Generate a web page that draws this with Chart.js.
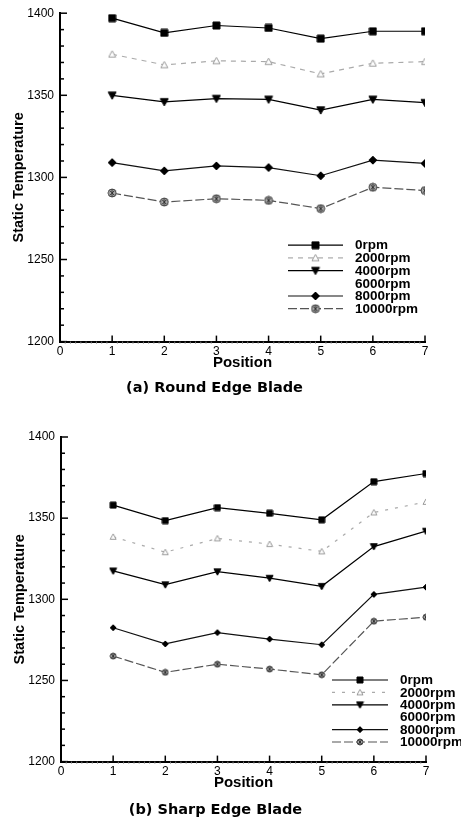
<!DOCTYPE html>
<html>
<head>
<meta charset="utf-8">
<script src="https://cdn.jsdelivr.net/npm/chart.js@4.4.1/dist/chart.umd.min.js"></script>
<style>
body { margin: 0; background: #fff; }
.wrap { width: 461px; position: relative; }
</style>
</head>
<body>
<div class="wrap" style="height:405px"><canvas id="round" width="461" height="405"></canvas></div>
<div class="wrap" style="height:417px"><canvas id="sharp" width="461" height="417"></canvas></div>
<script>
var positions = [1, 2, 3, 4, 5, 6, 7];
var rpmLabels = ['0rpm', '2000rpm', '4000rpm', '6000rpm', '8000rpm', '10000rpm'];
var yTicks = [1200, 1250, 1300, 1350, 1400];

// (a) round edge blade
var round0 = [1397, 1388, 1392.5, 1391, 1384.5, 1389, 1389];
var round2000 = [1375, 1368.5, 1371, 1370.5, 1363, 1369.5, 1370.5];
var round4000 = [1350, 1346, 1348, 1347.5, 1341, 1347.5, 1345.5];
var round6000 = [];
var round8000 = [1309, 1304, 1307, 1306, 1301, 1310.5, 1308.5];
var round10000 = [1290.5, 1285, 1287, 1286, 1281, 1294, 1292];

// (b) sharp edge blade
var sharp0 = [1358, 1348.5, 1356.5, 1353, 1349, 1372.5, 1377.5];
var sharp2000 = [1338.5, 1329, 1337.5, 1334, 1329.5, 1353.5, 1360];
var sharp4000 = [1317.5, 1309, 1317, 1313, 1308, 1332.5, 1342];
var sharp6000 = [];
var sharp8000 = [1282.5, 1272.5, 1279.5, 1275.5, 1272, 1303, 1307.5];
var sharp10000 = [1265, 1255, 1260, 1257, 1253.5, 1286.5, 1289];

Chart.defaults.font.family = '"Liberation Sans", Arial, sans-serif';
Chart.defaults.color = '#000';

function makeMarker(kind, size, fill, stroke) {
    var c = document.createElement('canvas');
    var s = size + 2;
    c.width = s;
    c.height = s;
    var g = c.getContext('2d');
    var m = s / 2, r = size / 2;
    g.fillStyle = fill;
    g.strokeStyle = stroke;
    g.lineWidth = 1;
    g.beginPath();
    if (kind == 'square') {
        g.rect(m - r, m - r, size, size);
    } else if (kind == 'up') {
        g.moveTo(m, m - r); g.lineTo(m + r, m + r * 0.8); g.lineTo(m - r, m + r * 0.8); g.closePath();
    } else if (kind == 'down') {
        g.moveTo(m - r, m - r * 0.8); g.lineTo(m + r, m - r * 0.8); g.lineTo(m, m + r); g.closePath();
    } else if (kind == 'diamond') {
        g.moveTo(m, m - r); g.lineTo(m + r, m); g.lineTo(m, m + r); g.lineTo(m - r, m); g.closePath();
    } else if (kind == 'circlecross') {
        g.arc(m, m, r, 0, Math.PI * 2);
    }
    g.fill();
    g.stroke();
    if (kind == 'circlecross') {
        g.strokeStyle = '#333';
        g.beginPath();
        g.moveTo(m - r * 0.6, m - r * 0.6); g.lineTo(m + r * 0.6, m + r * 0.6);
        g.moveTo(m + r * 0.6, m - r * 0.6); g.lineTo(m - r * 0.6, m + r * 0.6);
        g.moveTo(m, m - r); g.lineTo(m, m + r);
        g.stroke();
    }
    return c;
}

function toPoints(values) {
    var pts = [];
    for (var i = 0; i < values.length; i++) {
        pts.push({ x: positions[i], y: values[i] });
    }
    return pts;
}

var decor = {
    id: 'decor',
    afterDraw: function (chart) {
        var ctx = chart.ctx, xs = chart.scales.x, ys = chart.scales.y, a = chart.chartArea;
        var o = chart.options.plugins.decor;
        ctx.save();
        ctx.strokeStyle = '#000';
        ctx.lineWidth = 1.5;
        for (var v = 1200; v <= 1400; v += 10) {
            var py = ys.getPixelForValue(v);
            var len = v % 50 == 0 ? 7 : 4;
            ctx.beginPath(); ctx.moveTo(a.left, py); ctx.lineTo(a.left + len, py); ctx.stroke();
        }
        for (var k = 1; k <= 7; k++) {
            var px = xs.getPixelForValue(k);
            ctx.beginPath(); ctx.moveTo(px, a.bottom + 1); ctx.lineTo(px, a.bottom - 6); ctx.stroke();
        }
        ctx.lineWidth = 1;
        ctx.strokeStyle = '#777';
        for (var t = 1; t < 70; t++) {
            if (t % 10 == 0) continue;
            var qx = xs.getPixelForValue(t / 10);
            ctx.beginPath(); ctx.moveTo(qx, a.bottom); ctx.lineTo(qx, a.bottom + 2); ctx.stroke();
        }
        // legend
        var ds = chart.data.datasets;
        var x0 = a.left + o.dx, y0 = a.top + o.dy;
        ctx.font = 'bold 13.5px "Liberation Sans"';
        ctx.textBaseline = 'middle';
        ctx.fillStyle = '#000';
        for (var i = 0; i < ds.length; i++) {
            var y = y0 + i * o.step;
            if (ds[i].data.length) {
                ctx.strokeStyle = ds[i].borderColor;
                ctx.lineWidth = ds[i].borderWidth;
                ctx.setLineDash(ds[i].borderDash || []);
                ctx.beginPath(); ctx.moveTo(x0, y); ctx.lineTo(x0 + o.len, y); ctx.stroke();
                ctx.setLineDash([]);
                var img = ds[i].pointStyle;
                ctx.drawImage(img, x0 + o.len / 2 - img.width / 2, y - img.height / 2);
            }
            ctx.fillText(ds[i].label, x0 + o.len + 12, y + 0.5);
        }
        ctx.restore();
    }
};

function drawGraph(id, title, series, sizes, pad, legend, titlePad, dash2000) {
    var looks = [
        { color: '#000', dash: [], marker: makeMarker('square', sizes[0], '#000', '#000') },
        { color: '#aaa', dash: dash2000, marker: makeMarker('up', sizes[1], '#fff', '#999') },
        { color: '#000', dash: [], marker: makeMarker('down', sizes[2], '#000', '#000') },
        { color: '#000', dash: [], marker: makeMarker('square', 1, '#fff', '#fff') },
        { color: '#111', dash: [], marker: makeMarker('diamond', sizes[3], '#000', '#000') },
        { color: '#555', dash: [9, 3], marker: makeMarker('circlecross', sizes[4], '#aaa', '#444') }
    ];
    var datasets = [];
    for (var i = 0; i < series.length; i++) {
        datasets.push({
            label: rpmLabels[i],
            data: toPoints(series[i]),
            borderColor: looks[i].color,
            borderWidth: 1.2,
            borderDash: looks[i].dash,
            pointStyle: looks[i].marker,
            pointRadius: 4,
            pointHoverRadius: 4,
            tension: 0
        });
    }
    return new Chart(document.getElementById(id), {
        type: 'line',
        data: { datasets: datasets },
        options: {
            responsive: false,
            animation: false,
            events: [],
            layout: { padding: pad },
            plugins: {
                legend: { display: false },
                tooltip: { enabled: false },
                title: {
                    display: true,
                    text: title,
                    position: 'bottom',
                    font: { family: 'DejaVu Sans', size: 14.5, weight: 'bold' },
                    padding: titlePad,
                    color: '#000'
                },
                decor: legend
            },
            scales: {
                x: {
                    type: 'linear',
                    min: 0,
                    max: 7,
                    grid: { display: false, drawTicks: false },
                    border: { display: true, color: '#000', width: 2 },
                    ticks: { stepSize: 1, padding: 3, font: { size: 12 }, color: '#000' },
                    title: { display: true, text: 'Position', font: { size: 15, weight: 'bold' }, padding: { top: 0, bottom: 0 }, color: '#000' },
                    afterFit: function (s) { s.height = 30; }
                },
                y: {
                    min: 1200,
                    max: 1400,
                    grid: { display: false, drawTicks: false },
                    border: { display: true, color: '#000', width: 2 },
                    afterBuildTicks: function (s) { s.ticks = yTicks.map(function (v) { return { value: v }; }); },
                    ticks: {
                        padding: 6,
                        font: { size: 12 },
                        color: '#000',
                        callback: function (v) { return String(v); }
                    },
                    title: { display: true, text: 'Static Temperature', font: { size: 14.5, weight: 'bold' }, padding: { top: 6, bottom: 2 }, color: '#000' },
                    afterFit: function (s) { s.width = 56; }
                }
            }
        },
        plugins: [decor]
    });
}

drawGraph('round', '(a) Round Edge Blade',
    [round0, round2000, round4000, round6000, round8000, round10000],
    [7, 7, 8, 8, 8],
    { top: 7, left: 4, right: 36, bottom: 0 },
    { dx: 228, dy: 232, step: 12.7, len: 55 },
    { top: 8, bottom: 8 },
    [5, 5]);

drawGraph('sharp', '(b) Sharp Edge Blade',
    [sharp0, sharp2000, sharp4000, sharp6000, sharp8000, sharp10000],
    [6, 6, 7, 6, 6],
    { top: 32, left: 5, right: 35, bottom: 0 },
    { dx: 271, dy: 243, step: 12.4, len: 56 },
    { top: 10, bottom: 3 },
    [3, 7]);
</script>
</body>
</html>
